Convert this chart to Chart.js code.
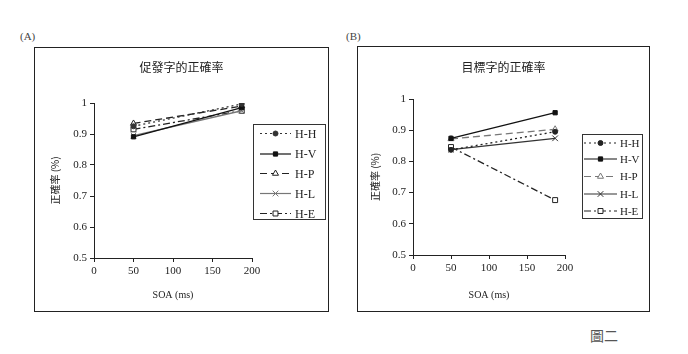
<!DOCTYPE html>
<html>
<head>
<meta charset="utf-8">
<script src="https://cdn.jsdelivr.net/npm/chart.js@4/dist/chart.umd.min.js"></script>
<style>
  body { margin: 0; background: #fff; width: 688px; height: 354px; position: relative; overflow: hidden; }
  .panel { position: absolute; border: 1px solid #222; background: #fff; }
  .lbl { position: absolute; font-family: "Liberation Serif", serif; font-size: 11px; color: #444; }
  .fig { position: absolute; font-family: "Noto Sans CJK TC", sans-serif; font-size: 14px; color: #555; }
</style>
</head>
<body>
<div class="lbl" style="left:20px;top:30px;">(A)</div>
<div class="lbl" style="left:346px;top:30px;">(B)</div>
<div class="panel" style="left:34px;top:47px;width:293px;height:263px;"><canvas id="chartA" width="293" height="263"></canvas></div>
<div class="panel" style="left:357px;top:46px;width:291px;height:264px;"><canvas id="chartB" width="291" height="264"></canvas></div>
<div class="fig" style="left:590px;top:325px;">圖二</div>
<script>
// SOA values (ms)
var soa = [50, 187];
var seriesNames = ['H-H', 'H-V', 'H-P', 'H-L', 'H-E'];

// (A) 促發字的正確率
var primeHH = [0.925, 0.997];
var primeHV = [0.891, 0.985];
var primeHP = [0.934, 0.990];
var primeHL = [0.895, 0.975];
var primeHE = [0.915, 0.975];

// (B) 目標字的正確率
var targetHH = [0.837, 0.895];
var targetHV = [0.874, 0.956];
var targetHP = [0.872, 0.903];
var targetHL = [0.838, 0.874];
var targetHE = [0.846, 0.676];

var yTicks = [0.5, 0.6, 0.7, 0.8, 0.9, 1];
var xTicks = [0, 50, 100, 150, 200];

var serif = '"Liberation Serif", "Times New Roman", serif';
var cjk = '"Noto Sans CJK TC", sans-serif';

// line + marker looks for each series
function styles(colors) {
    return [
        { dash: [2, 3], pointStyle: 'circle', radius: 2.5, fill: colors[0], color: colors[0] },
        { dash: [], pointStyle: 'rect', radius: 3, fill: colors[1], color: colors[1] },
        { dash: [7, 4], pointStyle: 'triangle', radius: 3.5, fill: '#fff', color: colors[2] },
        { dash: [], pointStyle: 'crossRot', radius: 4, fill: '#fff', color: colors[3] },
        { dash: [7, 3, 2, 3], pointStyle: 'rect', radius: 3.5, fill: '#fff', color: colors[4] }
    ];
}

function makeDatasets(values, st) {
    var out = [];
    for (var i = 0; i < values.length; i++) {
        var pts = [];
        for (var j = 0; j < soa.length; j++) pts.push({ x: soa[j], y: values[i][j] });
        out.push({
            label: seriesNames[i],
            data: pts,
            borderColor: st[i].color,
            backgroundColor: st[i].fill,
            borderWidth: 1.3,
            borderDash: st[i].dash,
            pointStyle: st[i].pointStyle,
            pointRadius: st[i].radius,
            pointBorderColor: st[i].color,
            pointBackgroundColor: st[i].fill,
            pointBorderWidth: 1
        });
    }
    return out;
}

// boxed legend drawn at a fixed spot on the canvas
var boxLegend = {
    id: 'boxLegend',
    afterDraw: function(chart, args, opts) {
        var ctx = chart.ctx;
        var st = opts.styles;
        ctx.save();
        ctx.fillStyle = '#fff';
        ctx.fillRect(opts.x, opts.y, opts.w, opts.h);
        ctx.strokeStyle = '#333';
        ctx.lineWidth = 1;
        ctx.setLineDash([]);
        ctx.strokeRect(opts.x + 0.5, opts.y + 0.5, opts.w, opts.h);
        for (var i = 0; i < seriesNames.length; i++) {
            var y = opts.rowY[i];
            ctx.strokeStyle = st[i].color;
            ctx.lineWidth = 1.2;
            ctx.setLineDash(st[i].dash);
            ctx.beginPath();
            ctx.moveTo(opts.lineX0, y);
            ctx.lineTo(opts.lineX1, y);
            ctx.stroke();
            ctx.setLineDash([]);
            ctx.fillStyle = st[i].fill;
            ctx.lineWidth = 1;
            Chart.helpers.drawPoint(ctx, { pointStyle: st[i].pointStyle, radius: st[i].radius, rotation: 0, borderWidth: 1 },
                (opts.lineX0 + opts.lineX1) / 2, y);
            ctx.fillStyle = '#222';
            ctx.font = opts.fontSize + 'px ' + serif;
            ctx.textBaseline = 'middle';
            ctx.textAlign = 'left';
            ctx.fillText(seriesNames[i], opts.textX, y + 1);
        }
        ctx.restore();
    }
};

function makeChart(id, title, values, st, geo) {
    return new Chart(document.getElementById(id), {
        type: 'line',
        data: { datasets: makeDatasets(values, st) },
        plugins: [boxLegend],
        options: {
            responsive: false,
            animation: false,
            layout: { padding: 0 },
            plugins: {
                legend: { display: false },
                tooltip: { enabled: false },
                title: {
                    display: true, text: title, color: '#222',
                    font: { family: cjk, size: 12, weight: 'normal' },
                    padding: { top: geo.titleTop, bottom: geo.titleBottom }
                },
                boxLegend: geo.legend
            },
            scales: {
                x: {
                    type: 'linear', min: 0, max: 200,
                    afterBuildTicks: function(s) { s.ticks = xTicks.map(function(v) { return { value: v }; }); },
                    afterFit: function(s) { s.height = geo.xHeight; },
                    grid: { drawOnChartArea: false, drawTicks: true, tickLength: 4, color: '#222' },
                    border: { color: '#222', width: 1 },
                    ticks: { color: '#222', padding: 3, font: { family: serif, size: 11 } },
                    title: { display: true, text: 'SOA (ms)', color: '#222', padding: 10, font: { family: serif, size: 10 } }
                },
                y: {
                    min: 0.5, max: 1,
                    afterBuildTicks: function(s) { s.ticks = yTicks.map(function(v) { return { value: v }; }); },
                    afterFit: function(s) { s.width = geo.yWidth; },
                    grid: { drawOnChartArea: false, drawTicks: true, tickLength: 4, color: '#222' },
                    border: { color: '#222', width: 1 },
                    ticks: {
                        color: '#222', padding: 3, font: { family: serif, size: 11 },
                        callback: function(v) { return String(+v.toFixed(1)); }
                    },
                    title: { display: true, text: '正確率 (%)', color: '#222', padding: { top: geo.yTitlePad, bottom: 0 }, font: { family: cjk, size: 10 } }
                },
                // empty right-hand space where the legend box sits
                side: {
                    position: 'right', min: 0, max: 1,
                    afterFit: function(s) { s.width = geo.padRight; },
                    grid: { display: false },
                    border: { display: false },
                    ticks: { display: false }
                }
            }
        }
    });
}

var stA = styles(['#333', '#111', '#222', '#777', '#222']);
var stB = styles(['#222', '#111', '#777', '#333', '#222']);

makeChart('chartA', '促發字的正確率',
    [primeHH, primeHV, primeHP, primeHL, primeHE], stA,
    { padRight: 76, titleTop: 12, titleBottom: 28.6, xHeight: 53, yWidth: 59, yTitlePad: 14,
      legend: { styles: stA, x: 218, y: 76, w: 72, h: 95, rowY: [85.5, 106, 125.5, 145.5, 165.5],
                lineX0: 225, lineX1: 256, textX: 260, fontSize: 12 } });

makeChart('chartB', '目標字的正確率',
    [targetHH, targetHV, targetHP, targetHL, targetHE], stB,
    { padRight: 84, titleTop: 13, titleBottom: 24.6, xHeight: 56, yWidth: 55, yTitlePad: 11,
      legend: { styles: stB, x: 224, y: 87, w: 60, h: 84, rowY: [96, 112, 129.5, 147, 164],
                lineX0: 226, lineX1: 259, textX: 262, fontSize: 11 } });
</script>
</body>
</html>
